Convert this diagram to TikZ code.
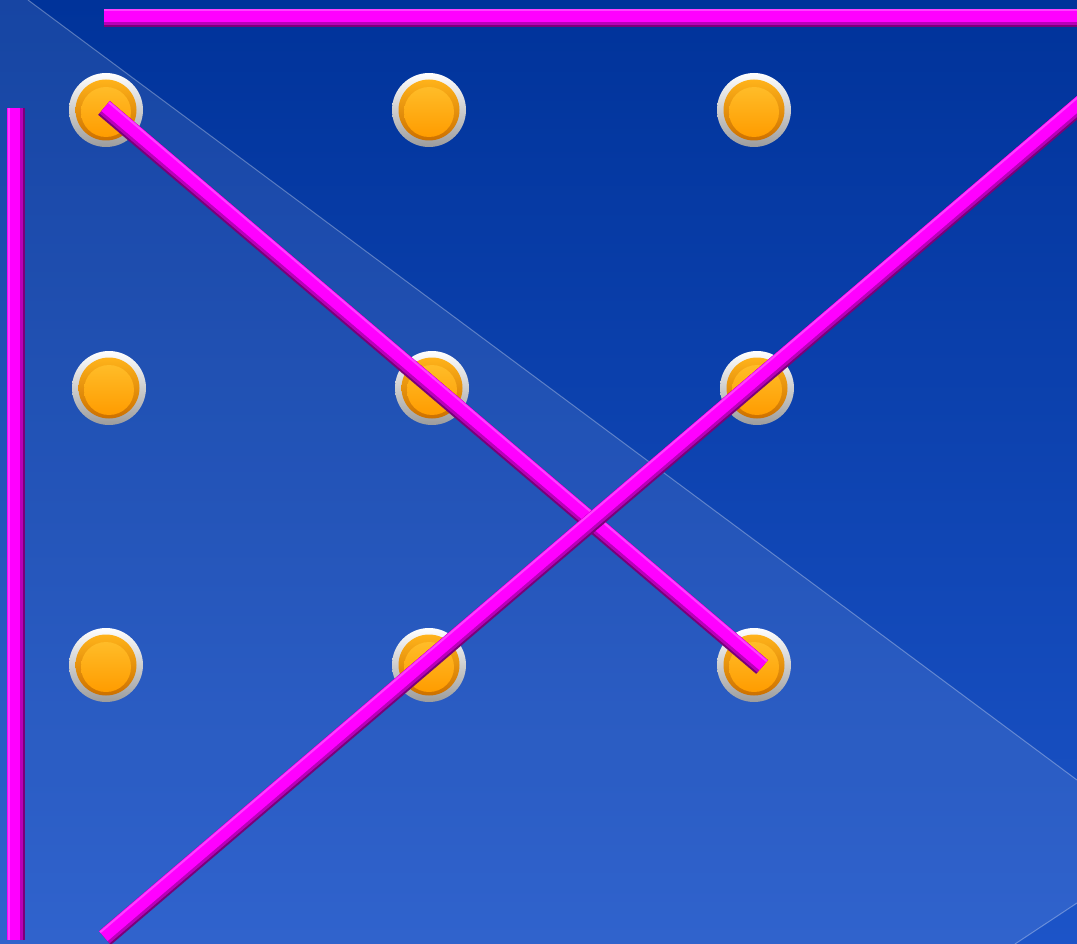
\documentclass[tikz,border=0pt]{standalone}
\usetikzlibrary{calc}
\definecolor{bgtop}{HTML}{00339A}
\definecolor{bgmid}{HTML}{0542B2}
\definecolor{bgbot}{HTML}{1C54C8}
\definecolor{bardark}{HTML}{7A007A}
\definecolor{barmid}{HTML}{B800B8}
\definecolor{barlight}{HTML}{FF00FF}
\definecolor{barhi}{HTML}{FF40FF}
\definecolor{ringdark}{HTML}{9C9C9C}
\definecolor{orrimtop}{HTML}{FFB31A}
\definecolor{orrimbot}{HTML}{CC7000}
\definecolor{orcentertop}{HTML}{FFBC28}
\definecolor{orcenterbot}{HTML}{FF9C00}
\newcommand{\mybar}[2]{%
  \draw[barbase] (#1) -- (#2);
  \draw[barmidline] ($(#1)!1pt!90:(#2)$) -- ($(#2)!1pt!-90:(#1)$);
  \draw[barlightline] ($(#1)!2.5pt!90:(#2)$) -- ($(#2)!2.5pt!-90:(#1)$);
  \draw[barhiline] ($(#1)!7.5pt!90:(#2)$) -- ($(#2)!7.5pt!-90:(#1)$);
}
\begin{document}
\begin{tikzpicture}[x=1pt,y=-1pt,
  ring/.style={circle, inner sep=0pt, minimum size=74pt, top color=white, bottom color=ringdark},
  btn/.style={circle, inner sep=0pt, minimum size=61pt, top color=orrimtop, bottom color=orrimbot},
  btncore/.style={circle, inner sep=0pt, minimum size=50pt, top color=orcentertop, bottom color=orcenterbot},
  barbase/.style={line width=18pt, color=bardark},
  barmidline/.style={line width=16pt, color=barmid},
  barlightline/.style={line width=13pt, color=barlight},
  barhiline/.style={line width=2pt, color=barhi},
  faint/.style={draw=white, draw opacity=0.3, line width=1pt}
]
\useasboundingbox (0,0) rectangle (1077,944);
\clip (0,0) rectangle (1077,944);
% background
\shade[top color=bgtop, middle color=bgmid, bottom color=bgbot] (0,0) rectangle (1077,944);
\fill[white, opacity=0.09] (28,0) -- (1077,780) -- (1077,903) -- (1015,944) -- (0,944) -- (0,0) -- cycle;
\path[faint] (28,0) -- (1077,780);
\path[faint] (1015,944) -- (1077,903);
% dots
\foreach \n/\x/\y in {11/106/110, 12/429/110, 13/754/110,
                       21/109/388, 22/432/388, 23/757/388,
                       31/106/665, 32/429/665, 33/754/665}{
  \node[ring] (d\n) at (\x,\y) {};
  \node[btn] (b\n) at (d\n) {};
  \node[btncore] (c\n) at ($(d\n)+(0,2)$) {};
}
% bar ends
\coordinate (ta) at (104,18);
\coordinate (tb) at (1077,18);
\coordinate (la) at (16,940);
\coordinate (lb) at (16,108);
\coordinate (pa) at (104,108);
\coordinate (pb) at (762,667);
\coordinate (qa) at (105,938);
\coordinate (qb) at (1085,101);
\mybar{ta}{tb}
\mybar{la}{lb}
\mybar{pa}{pb}
\mybar{qa}{qb}
\end{tikzpicture}
\end{document}
